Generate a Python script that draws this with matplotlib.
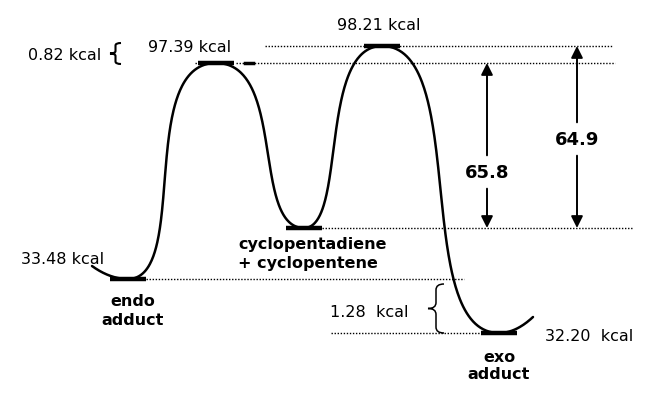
import matplotlib.pyplot as plt
import numpy as np
from matplotlib.path import Path
from matplotlib.patches import PathPatch

# stationary points of the schematic profile
# (reaction coordinate, drawn height on the diagram)
stations = ["start", "endo", "TS1", "int", "TS2", "exo", "end"]
rc = [92, 128, 216, 304, 382, 499, 533]
height = [135, 122, 338, 173, 355, 68, 84]

energy_labels = {"endo": "33.48 kcal", "TS1": "97.39 kcal",
                 "TS2": "98.21 kcal", "exo": "32.20  kcal"}
gap_labels = ["0.82 kcal", "1.28  kcal"]
barrier_labels = ["65.8", "64.9"]
species = {"endo": "endo\nadduct", "int": "cyclopentadiene\n+ cyclopentene",
           "exo": "exo\nadduct"}

# bezier handle lengths (fraction of the x span) leaving the left and
# right stationary point of each climb / descent
handles = [(0.7, 0.9), (0.8, 0.6), (0.55, 0.82), (0.75, 0.75)]


def segment(a, b, ha, hb, num=150):
    xa, ya, xb, yb = rc[a], height[a], rc[b], height[b]
    dx = xb - xa
    p = np.array([[xa, ya], [xa + ha * dx, ya], [xb - hb * dx, yb], [xb, yb]])
    t = np.linspace(0, 1, num)[:, None]
    c = (1 - t) ** 3 * p[0] + 3 * (1 - t) ** 2 * t * p[1] \
        + 3 * (1 - t) * t ** 2 * p[2] + t ** 3 * p[3]
    return c[:, 0], c[:, 1]


def brace(ax, x_tip, x_arm, y0, y1, lw=1.1):
    ym = (y0 + y1) / 2
    xm = (x_tip + x_arm) / 2
    r = (y1 - y0) * 0.12
    verts = [(x_arm, y1), (xm, y1), (xm, y1 - r),
             (xm, ym + r), (xm, ym), (x_tip, ym),
             (xm, ym), (xm, ym - r),
             (xm, y0 + r), (xm, y0), (x_arm, y0)]
    codes = [Path.MOVETO, Path.CURVE3, Path.CURVE3,
             Path.LINETO, Path.CURVE3, Path.CURVE3,
             Path.CURVE3, Path.CURVE3,
             Path.LINETO, Path.CURVE3, Path.CURVE3]
    ax.add_patch(PathPatch(Path(verts, codes), fill=False, lw=lw, color="black"))


fig = plt.figure(figsize=(6.69, 4.02), dpi=100)
ax = fig.add_axes([0, 0, 1, 1])
ax.set_xlim(0, 669)
ax.set_ylim(0, 402)
ax.axis("off")

# profile curve
xs, ys = [], []
t = np.linspace(0, 1, 40)
xs.append(rc[0] + (rc[1] - rc[0]) * t)
ys.append(height[1] + (height[0] - height[1]) * (1 - t) ** 2)
for i, (ha, hb) in enumerate(handles):
    sx, sy = segment(i + 1, i + 2, ha, hb)
    xs.append(sx)
    ys.append(sy)
xs.append(rc[5] + (rc[6] - rc[5]) * t)
ys.append(height[5] + (height[6] - height[5]) * t ** 2)
ax.plot(np.concatenate(xs), np.concatenate(ys), color="black", lw=1.8,
        solid_capstyle="round")

# thick level bars at each stationary point
for name in ["endo", "TS1", "int", "TS2", "exo"]:
    i = stations.index(name)
    ax.plot([rc[i] - 18, rc[i] + 18], [height[i], height[i]], color="black",
            lw=3.2, solid_capstyle="butt")
i = stations.index("TS1")
ax.plot([rc[i] + 29, rc[i] + 37], [height[i], height[i]], color="black", lw=2.5)

# dotted reference levels
dots = dict(color="black", lw=1.0, linestyle=(0, (1, 1.2)))
levels = {"TS2": (265, 613), "TS1": (236, 615), "int": (322, 632),
          "endo": (146, 464), "exo": (331, 480)}
for name, (x0, x1) in levels.items():
    h = height[stations.index(name)]
    ax.plot([x0, x1], [h, h], **dots)
ax.plot([195, 198], [height[2], height[2]], **dots)

# barrier arrows
h_int = height[stations.index("int")]
for label, top, xa, ylab in [(barrier_labels[0], height[2], 487, 229),
                             (barrier_labels[1], height[4], 577, 262)]:
    for end in (top, h_int):
        ax.annotate("", xy=(xa, end), xytext=(xa, ylab),
                    arrowprops=dict(arrowstyle="-|>,head_length=0.7,head_width=0.35",
                                    color="black", lw=1.4, shrinkA=12, shrinkB=0))
    ax.text(xa, ylab, label, ha="center", va="center", fontsize=13,
            fontweight="bold")

kcal = dict(fontsize=11.5, color="black", va="center")
ax.text(148, 355, energy_labels["TS1"], ha="left", **kcal)
ax.text(337, 376, energy_labels["TS2"], ha="left", **kcal)
ax.text(21, 143, energy_labels["endo"], ha="left", **kcal)
ax.text(545, 65, energy_labels["exo"], ha="left", **kcal)
ax.text(28, 347, gap_labels[0], ha="left", **kcal)
ax.text(409, 89, gap_labels[1], ha="right", **kcal)
brace(ax, 110, 121, 337, 358, lw=1.5)
brace(ax, 428, 444, 68, 117)

bold = dict(fontsize=11.5, fontweight="bold", color="black", va="center")
ax.text(133, 91, species["endo"], ha="center", linespacing=1.35, **bold)
ax.text(238, 148, species["int"], ha="left", linespacing=1.35, **bold)
ax.text(499, 36, species["exo"], ha="center", linespacing=1.2, **bold)

fig.savefig("out.png", dpi=100, facecolor="white")
